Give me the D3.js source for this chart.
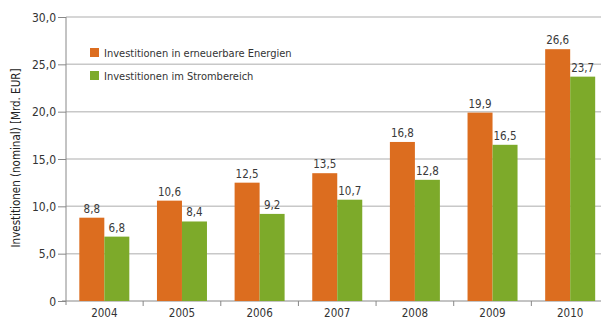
<html>
  <head>
    <meta charset="utf-8">
    <style>
      body { margin: 0; background: #fff; }
      svg text { font-family: "Liberation Sans Narrow", "DejaVu Sans Condensed", "Arial Narrow", sans-serif; }
      .grid line { stroke: #c8c8c8; stroke-width: 1.5px; }
      .axis path, .axis line { stroke: #888; }
    </style>
  </head>
<body>
  <svg width="601" height="320"></svg>
  <script src="https://d3js.org/d3.v7.min.js"></script>
  <script>
    // data
    var years = ["2004", "2005", "2006", "2007", "2008", "2009", "2010"];
    var erneuerbar = [8.8, 10.6, 12.5, 13.5, 16.8, 19.9, 26.6];
    var strom = [6.8, 8.4, 9.2, 10.7, 12.8, 16.5, 23.7];
    var seriesNames = ["Investitionen in erneuerbare Energien", "Investitionen im Strombereich"];
    var colors = ["#dc6d1f", "#7daa2a"];
    var yTicks = [0, 5, 10, 15, 20, 25, 30];

    var svg = d3.select("svg");
    var fmt = function(v) { return v === 0 ? "0" : d3.format(".1f")(v).replace(".", ","); };

    var x = d3.scaleBand().domain(years).range([65.5, 609]);
    var inner = d3.scaleBand().domain([0, 1]).range([0, 50]);
    var y = d3.scaleLinear().domain([0, 30]).range([301, 17]);

    // gridlines
    svg.append("g")
        .attr("class", "grid")
      .selectAll("line")
      .data(yTicks.slice(1))
      .enter().append("line")
        .attr("x1", 66).attr("x2", 601)
        .attr("y1", function(d) { return y(d); })
        .attr("y2", function(d) { return y(d); });

    // y axis
    var yAxis = svg.append("g")
        .attr("class", "axis")
        .attr("transform", "translate(66,0)")
        .call(d3.axisLeft(y).tickValues(yTicks).tickFormat(fmt).tickSize(8).tickPadding(2));
    yAxis.select(".domain").attr("d", "M0,17V305");
    yAxis.selectAll("text").attr("font-size", 12).attr("fill", "#333").attr("dy", "0.35em");

    // x axis
    var xAxis = svg.append("g")
        .attr("class", "axis")
        .attr("transform", "translate(0,301)");
    xAxis.append("line")
        .attr("x1", 62).attr("x2", 601);
    xAxis.selectAll(".tk")
      .data(years.slice(1))
      .enter().append("line")
        .attr("x1", function(d) { return x(d); })
        .attr("x2", function(d) { return x(d); })
        .attr("y1", 0).attr("y2", 5);
    xAxis.selectAll("text")
      .data(years)
      .enter().append("text")
        .attr("x", function(d) { return x(d) + x.bandwidth() / 2; })
        .attr("y", 15.5)
        .attr("text-anchor", "middle")
        .attr("font-size", 11.5)
        .attr("fill", "#333")
        .text(function(d) { return d; });

    // bars
    var series = [erneuerbar, strom];
    series.forEach(function(vals, s) {
      var g = svg.append("g");
      var bx = function(d, i) { return x(years[i]) + x.bandwidth() / 2 - 25 + inner(s); };
      g.selectAll("rect")
        .data(vals)
        .enter().append("rect")
          .attr("x", bx)
          .attr("y", function(d) { return y(d); })
          .attr("width", inner.bandwidth())
          .attr("height", function(d) { return y(0) - y(d); })
          .attr("fill", colors[s]);
      g.selectAll("text")
        .data(vals)
        .enter().append("text")
          .attr("x", function(d, i) { return bx(d, i) + inner.bandwidth() / 2; })
          .attr("y", function(d) { return y(d) - 5; })
          .attr("text-anchor", "middle")
          .attr("font-size", 11.5)
          .attr("fill", "#3a3a3a")
          .text(fmt);
    });

    // legend
    var legend = svg.append("g");
    seriesNames.forEach(function(n, i) {
      legend.append("rect")
        .attr("x", 90).attr("y", 48 + i * 23)
        .attr("width", 9).attr("height", 9)
        .attr("fill", colors[i]);
      legend.append("text")
        .attr("x", 104).attr("y", 57 + i * 23)
        .attr("font-size", 11)
        .attr("fill", "#333")
        .text(n);
    });

    // y title
    svg.append("text")
      .attr("transform", "translate(20,158) rotate(-90)")
      .attr("text-anchor", "middle")
      .attr("font-size", 11.5)
      .attr("fill", "#222")
      .style("font-family", "'DejaVu Sans Condensed', sans-serif")
      .text("Investitionen (nominal) [Mrd. EUR]");
  </script>
  </body>
</html>
